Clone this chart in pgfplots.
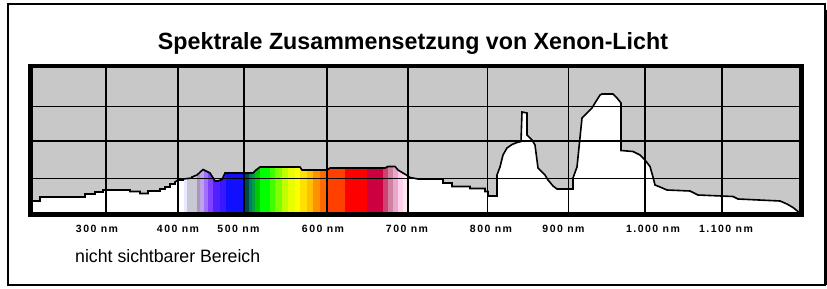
\documentclass[border=0pt]{standalone}
\usepackage{fontspec}
\setmainfont{Liberation Sans}
\usepackage{pgfplots}
\pgfplotsset{compat=1.18}
\definecolor{bg}{RGB}{200,200,200}
\definecolor{b01}{HTML}{E8E8FF}
\definecolor{b02}{HTML}{C8C8D4}
\definecolor{b03}{HTML}{A898B8}
\definecolor{b04}{HTML}{C0A0E8}
\definecolor{b05}{HTML}{A070FF}
\definecolor{b06}{HTML}{8040FF}
\definecolor{b07}{HTML}{5020FF}
\definecolor{b08}{HTML}{3818FF}
\definecolor{b09}{HTML}{1010FF}
\definecolor{b10}{HTML}{004848}
\definecolor{b11}{HTML}{008060}
\definecolor{b12}{HTML}{00A040}
\definecolor{b13}{HTML}{00C800}
\definecolor{b14}{HTML}{00FF00}
\definecolor{b15}{HTML}{40FF00}
\definecolor{b16}{HTML}{80FF00}
\definecolor{b17}{HTML}{C0FF00}
\definecolor{b18}{HTML}{E8FF00}
\definecolor{b19}{HTML}{FFFF00}
\definecolor{b20}{HTML}{FFE000}
\definecolor{b21}{HTML}{FFC000}
\definecolor{b22}{HTML}{FF9000}
\definecolor{b23}{HTML}{FF6A00}
\definecolor{b24}{HTML}{FF4000}
\definecolor{b25}{HTML}{FF0000}
\definecolor{b26}{HTML}{CC0040}
\definecolor{b27}{HTML}{D04070}
\definecolor{b28}{HTML}{D080A0}
\definecolor{b29}{HTML}{E8A8CC}
\definecolor{b30}{HTML}{FFD0E8}
\definecolor{b31}{HTML}{FFE8F0}
\newcommand\band[3]{\addplot[draw=none,fill=#3,forget plot] coordinates {(#1,214.5) (#1,155) (#2,155) (#2,214.5)} -- cycle;}
\begin{document}
\begin{tikzpicture}
\useasboundingbox (0pt,0pt) rectangle (827pt,289pt);
\draw[line width=1.5pt] (8pt,4pt) rectangle (825pt,285pt);
\draw[line width=2.5pt] (825.3pt,279pt) -- (825.3pt,4pt);
\node[anchor=base,inner sep=0pt] at (413pt,239pt) {\resizebox{510pt}{17pt}{\bfseries Spektrale Zusammensetzung von Xenon-Licht}};
\node[anchor=base west,inner sep=0pt] at (75pt,26pt) {\resizebox{185pt}{13pt}{nicht sichtbarer Bereich}};
\begin{axis}[
  at={(30.5pt,74.5pt)}, anchor=south west,
  width=771pt, height=148.5pt, scale only axis,
  xmin=30.5, xmax=801.5, ymin=66, ymax=214.5, y dir=reverse,
  axis on top,
  axis line style={line width=4.5pt},
  xtick={97,178,238.5,323,407,491,563.5,653,726},
  xticklabels={300 nm,400 nm,500 nm,600 nm,700 nm,800 nm,900 nm,{1.000 nm},{1.100 nm}},
  minor xtick={106,178.3,244.3,327.3,408.3,487.5,568.5,645,721.7},
  xminorgrids=true, xmajorgrids=false,
  ytick={106.5,141,178.5}, yticklabels={},
  ymajorgrids=true,
  grid style={black,line width=1.7pt},
  minor grid style={black,line width=1.7pt},
  major tick length=0pt, minor tick length=0pt,
  tick style={draw=none},
  xticklabel style={anchor=base,yshift=-18pt,inner sep=0pt,font=\fontsize{10.5}{11}\selectfont\bfseries\addfontfeatures{LetterSpace=14}},
]
\band{184}{186.7}{b01}
\band{186.7}{196.7}{b02}
\band{196.7}{200}{b03}
\band{200}{204}{b04}
\band{204}{208.3}{b05}
\band{208.3}{213.3}{b06}
\band{213.3}{220}{b07}
\band{220}{226}{b08}
\band{226}{245}{b09}
\band{245}{248.5}{b10}
\band{248.5}{251.7}{b11}
\band{251.7}{255}{b12}
\band{255}{260}{b13}
\band{260}{270}{b14}
\band{270}{275}{b15}
\band{275}{281.7}{b16}
\band{281.7}{288.3}{b17}
\band{288.3}{295}{b18}
\band{295}{300}{b19}
\band{300}{306.7}{b20}
\band{306.7}{313.3}{b21}
\band{313.3}{320}{b22}
\band{320}{327.3}{b23}
\band{327.3}{345}{b24}
\band{345}{366.7}{b25}
\band{366.7}{383.3}{b26}
\band{383.3}{388.3}{b27}
\band{388.3}{393.3}{b28}
\band{393.3}{398.3}{b29}
\band{398.3}{403.3}{b30}
\band{403.3}{406.7}{b31}
\addplot[draw=none,fill=bg,forget plot] coordinates {
(30,201) (40,201) (40,197) (85,197) (85,194) (95,194) (95,192) (103,192) (103,190) (130,190) (130,191.5) (140,191.5) (140,193.5) (148,193.5) (148,191) (160,191) (160,189) (165,189) (165,187) (170,187) (170,184) (175,184) (175,182) (178,180) (183,180) (183,179) (192,178) (192,177) (197,175) (203,169.5) (210,173) (215,181) (218,181) (222,179.5) (225,173) (253,173) (256,170) (260,167) (300,167) (302,170) (327,170) (330,168) (385,168) (388,166.5) (395,166.5) (398,170) (403,173) (408,176) (410,177.5) (418,179) (443,179) (443,183) (452,183) (452,186.5) (470,186.5) (470,188.5) (485,188.5) (485,191.5) (488,191.5) (488,196) (497,196) (497,175) (500,167) (503,155) (507,148) (512,144.5) (517,142.5) (521,141.5) (522,112) (527,113) (527,135) (532,140) (535,145) (538,168) (542,172) (545,175) (548,180) (553,186) (557,189) (573,189) (573,178) (577,167) (582,118) (587,113) (592,108) (595,103) (600,95) (602,94) (613,94) (617,98) (621,103) (621,150.5) (633,151.5) (640,155) (645,160) (650,166.5) (653,177) (655,185) (660,187) (667,190) (690,191) (698,195) (733,196.5) (738,199) (780,201) (787,204) (793,207.5) (798,211.5) (802,214)
(802,66) (30,66)} -- cycle;
\addplot[black,line width=1.6pt,mark=none] coordinates {
(30,201) (40,201) (40,197) (85,197) (85,194) (95,194) (95,192) (103,192) (103,190) (130,190) (130,191.5) (140,191.5) (140,193.5) (148,193.5) (148,191) (160,191) (160,189) (165,189) (165,187) (170,187) (170,184) (175,184) (175,182) (178,180) (183,180) (183,179) (192,178) (192,177) (197,175) (203,169.5) (210,173) (215,181) (218,181) (222,179.5) (225,173) (253,173) (256,170) (260,167) (300,167) (302,170) (327,170) (330,168) (385,168) (388,166.5) (395,166.5) (398,170) (403,173) (408,176) (410,177.5) (418,179) (443,179) (443,183) (452,183) (452,186.5) (470,186.5) (470,188.5) (485,188.5) (485,191.5) (488,191.5) (488,196) (497,196) (497,175) (500,167) (503,155) (507,148) (512,144.5) (517,142.5) (521,141.5) (522,112) (527,113) (527,135) (532,140) (535,145) (538,168) (542,172) (545,175) (548,180) (553,186) (557,189) (573,189) (573,178) (577,167) (582,118) (587,113) (592,108) (595,103) (600,95) (602,94) (613,94) (617,98) (621,103) (621,150.5) (633,151.5) (640,155) (645,160) (650,166.5) (653,177) (655,185) (660,187) (667,190) (690,191) (698,195) (733,196.5) (738,199) (780,201) (787,204) (793,207.5) (798,211.5) (802,214)};
\end{axis}
\end{tikzpicture}
\end{document}
